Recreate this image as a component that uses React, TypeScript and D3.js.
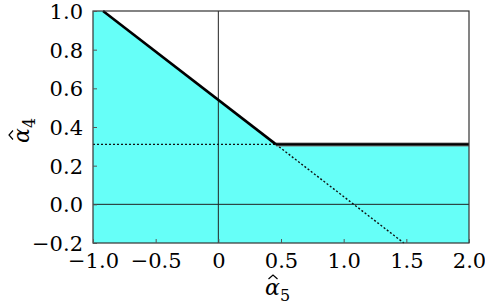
import React, { useEffect, useRef } from 'react'
import * as d3 from 'd3'

const xTicks = [-1.0, -0.5, 0, 0.5, 1.0, 1.5, 2.0]
const xTickLabels = ['−1.0', '−0.5', '0', '0.5', '1.0', '1.5', '2.0']
const yTicks = [-0.2, 0.0, 0.2, 0.4, 0.6, 0.8, 1.0]
const yTickLabels = ['−0.2', '0.0', '0.2', '0.4', '0.6', '0.8', '1.0']

// boundary line a4 = 0.54 - 0.5 * a5, clipped from below at 0.31
const slopeLine: [number, number][] = [[-0.92, 1.0], [0.46, 0.31]]
const flatLine: [number, number][] = [[0.46, 0.31], [2.0, 0.31]]
const dottedSlope: [number, number][] = [[0.46, 0.31], [1.48, -0.2]]
const dottedFlat: [number, number][] = [[-1.0, 0.31], [0.46, 0.31]]
const region: [number, number][] = [
    [-1.0, 1.0], [-0.92, 1.0], [0.46, 0.31], [2.0, 0.31], [2.0, -0.2], [-1.0, -0.2],
]

const width = 485
const height = 307
const margin = { top: 11, right: 16, bottom: 64, left: 93 }
const font = "'DejaVu Serif', serif"

export default function App() {
    const svgRef = useRef<SVGSVGElement | null>(null)

    useEffect(() => {
        const svg = d3.select(svgRef.current)
        svg.selectAll('*').remove()

        const x = d3.scaleLinear().domain([-1, 2]).range([margin.left, width - margin.right])
        const y = d3.scaleLinear().domain([-0.2, 1.0]).range([height - margin.bottom, margin.top])
        const line = d3.line<[number, number]>().x(d => x(d[0])).y(d => y(d[1]))

        svg.append('path').attr('d', line(region)! + 'Z').attr('fill', '#66fff8')

        // zero lines
        svg.append('line').attr('x1', x(-1)).attr('x2', x(2)).attr('y1', y(0)).attr('y2', y(0))
            .attr('stroke', '#222').attr('stroke-width', 1)
        svg.append('line').attr('x1', x(0)).attr('x2', x(0)).attr('y1', y(-0.2)).attr('y2', y(1))
            .attr('stroke', '#222').attr('stroke-width', 1)

        svg.append('path').attr('d', line(dottedFlat)).attr('fill', 'none')
            .attr('stroke', '#111').attr('stroke-width', 1.2).attr('stroke-dasharray', '2,2')
        svg.append('path').attr('d', line(dottedSlope)).attr('fill', 'none')
            .attr('stroke', '#111').attr('stroke-width', 1.4).attr('stroke-dasharray', '2,2')

        svg.append('path').attr('d', line(flatLine)).attr('fill', 'none')
            .attr('stroke', '#7a7a7a').attr('stroke-width', 4)
        svg.append('path').attr('d', line(flatLine)).attr('fill', 'none')
            .attr('stroke', '#000').attr('stroke-width', 2.4)
        svg.append('path').attr('d', line(slopeLine)).attr('fill', 'none')
            .attr('stroke', '#000').attr('stroke-width', 2.6)

        // frame
        svg.append('rect').attr('x', x(-1)).attr('y', y(1)).attr('width', x(2) - x(-1)).attr('height', y(-0.2) - y(1))
            .attr('fill', 'none').attr('stroke', '#333').attr('stroke-width', 1.2)

        // ticks
        const xAxis = d3.axisBottom(x).tickValues(xTicks).tickSizeInner(-4).tickSizeOuter(0)
            .tickFormat((_, i) => xTickLabels[i]).tickPadding(10)
        const gx = svg.append('g').attr('transform', `translate(0,${y(-0.2)})`).call(xAxis)
        gx.attr('font-family', null).attr('font-size', null)
        gx.select('.domain').remove()
        gx.selectAll('line').attr('stroke', '#555')
        gx.selectAll('text').style('font-family', font).style('font-size', '21px').attr('fill', '#000')

        const yAxis = d3.axisLeft(y).tickValues(yTicks).tickSizeInner(-4).tickSizeOuter(0)
            .tickFormat((_, i) => yTickLabels[i]).tickPadding(10)
        const gy = svg.append('g').attr('transform', `translate(${x(-1)},0)`).call(yAxis)
        gy.attr('font-family', null).attr('font-size', null)
        gy.select('.domain').remove()
        gy.selectAll('line').attr('stroke', '#555')
        gy.selectAll('text').attr('dy', '0.36em').style('font-family', font).style('font-size', '21px').attr('fill', '#000')

        // axis labels: alpha with a drawn hat and a subscript
        const mathLabel = (g: d3.Selection<SVGGElement, unknown, null, undefined>, sub: string) => {
            g.append('text').attr('x', 0).attr('y', 0).style('font-family', font).style('font-size', '22px')
                .style('font-style', 'italic').text('α')
            g.append('text').attr('x', 15).attr('y', 6).style('font-family', font).style('font-size', '16px').text(sub)
            g.append('path').attr('d', 'M3.5,-16 L8,-20 L12.5,-16').attr('fill', 'none')
                .attr('stroke', '#000').attr('stroke-width', 1.2)
        }
        mathLabel(svg.append('g').attr('transform', `translate(265,295)`), '5')
        mathLabel(svg.append('g').attr('transform', `translate(29,143) rotate(-90)`), '4')
    }, [])

    return <svg ref={svgRef} width={width} height={height} style={{ position: 'absolute', left: 0, top: 0 }} />
}
